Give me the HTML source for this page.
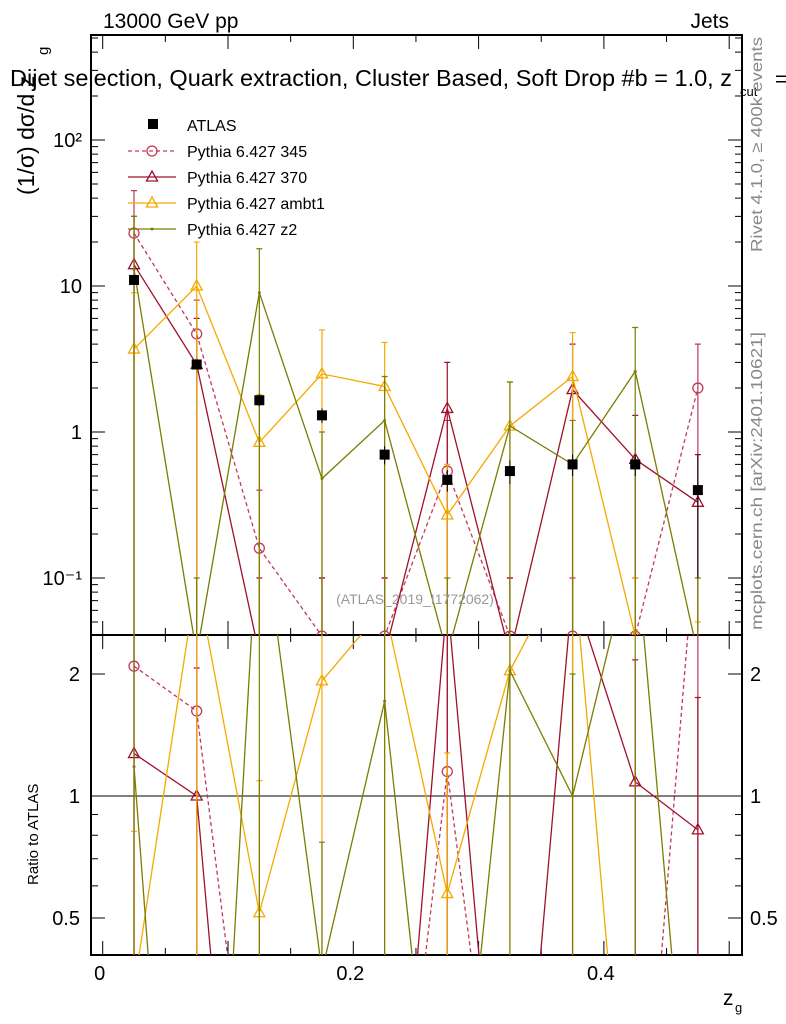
<!DOCTYPE html>
<html><head><meta charset="utf-8"><style>
body{margin:0;background:#fff;overflow:hidden}
svg{display:block}
svg text{font-family:"Liberation Sans",sans-serif}
</style></head><body>
<svg id="c" width="786" height="1024" xmlns="http://www.w3.org/2000/svg"></svg>
<script>
const xCenters=[0.025,0.075,0.125,0.175,0.225,0.275,0.325,0.375,0.425,0.475];
const atlasVals=[11,2.9,1.65,1.3,0.7,0.47,0.54,0.6,0.6,0.4];
const atlasErrUp=[0.5,0.2,0.15,0.15,0.1,0.08,0.1,0.1,0.1,0.3];
const p345Vals=[23,4.7,0.16,0.04,0.04,0.54,0.04,0.04,0.04,2.0];
const p345Up=[45,8,0.4,0.1,0.1,1.2,0.1,0.1,0.1,4.0];
const p370Vals=[14,2.9,0.03,0.03,0.03,1.45,0.03,1.95,0.65,0.33];
const p370Up=[30,6,0.1,0.1,0.1,3.0,0.1,4.0,1.3,0.7];
const ambt1Vals=[3.7,10,0.85,2.5,2.05,0.27,1.1,2.4,0.04,0.02];
const ambt1Up=[9,20,1.8,5,4.1,0.6,2.2,4.8,0.1,0.05];
const z2Vals=[13,0.03,9,0.48,1.2,0.03,1.1,0.6,2.6,0.03];
const z2Up=[30,0.1,18,1.0,2.4,0.1,2.2,1.2,5.2,0.1];
const mainYTicks=["10\u207B\u00B9","1","10","10\u00B2"];
const ratioTicks=[0.5,1,2];
const xTicks=[0,0.2,0.4];
const series=[
 {name:"Pythia 6.427 345",vals:p345Vals,up:p345Up,color:"#c0395a",dash:"4,3",marker:"circle"},
 {name:"Pythia 6.427 370",vals:p370Vals,up:p370Up,color:"#a0102a",dash:"",marker:"tri"},
 {name:"Pythia 6.427 ambt1",vals:ambt1Vals,up:ambt1Up,color:"#f5a800",dash:"",marker:"tri"},
 {name:"Pythia 6.427 z2",vals:z2Vals,up:z2Up,color:"#7a7d00",dash:"",marker:"dot"}];
const NS="http://www.w3.org/2000/svg",svg=document.getElementById('c');
const L=91,R=742,T=35,M=635,B=955;
const X=v=>102.7+v*1253;
const Y=v=>286-(Math.log10(v)-1)*146;
const YR=v=>796-Math.log2(v)*122;
function el(t,a,p){const e=document.createElementNS(NS,t);for(const k in a)e.setAttribute(k,a[k]);(p||svg).appendChild(e);return e;}
function txt(s,a,p){const e=el('text',a,p);e.textContent=s;return e;}
const clipM=el('clipPath',{id:'cm'});el('rect',{x:L,y:T,width:R-L,height:M-T},clipM);
const clipR=el('clipPath',{id:'cr'});el('rect',{x:L,y:M,width:R-L,height:B-M},clipR);
let f1=el('rect',{x:L,y:T,width:R-L,height:M-T,fill:'none',stroke:'#000','stroke-width':2});

let f2=el('rect',{x:L,y:M,width:R-L,height:B-M,fill:'none',stroke:'#000','stroke-width':2});

for(let k=0;k<=10;k++){const v=k*0.05;const x=X(v);if(x>R)continue;const big=k%2==0;const l=big?14:7;
 el('path',{d:`M${x},${T}v${l}M${x},${M}v-${l}M${x},${M}v${l}M${x},${B}v-${l}`,stroke:'#000'});}
xTicks.forEach(v=>{const t=txt(String(v),{x:X(v)-3,y:980,'font-size':20,'text-anchor':'middle'});});
for(let d=-2;d<=2;d++)for(let m=1;m<10;m++){const v=m*Math.pow(10,d);const y=Y(v);if(y<T||y>M)continue;const l=m==1?14:7;
 el('path',{d:`M${L},${y}h${l}M${R},${y}h-${l}`,stroke:'#000'});}
const mv=[0.1,1,10,100];
mainYTicks.forEach((s,i)=>{const t=txt(s,{x:82,y:Y(mv[i])+7,'font-size':20,'text-anchor':'end'});});
[0.5,0.6,0.7,0.8,0.9,1,2].forEach(v=>{const y=YR(v);const l=ratioTicks.includes(v)?14:7;el('path',{d:`M${L},${y}h${l}M${R},${y}h-${l}`,stroke:'#000'});});
ratioTicks.forEach(v=>{const a=txt(String(v),{x:80,y:YR(v)+7,'font-size':20,'text-anchor':'end'});
 const b=txt(String(v),{x:750,y:YR(v)+7,'font-size':20});});
el('line',{x1:L,x2:R,y1:YR(1),y2:YR(1),stroke:'#000'});
function marker(g,s,x,y){if(s.marker=='circle')el('circle',{cx:x,cy:y,r:5,fill:'none',stroke:s.color,'stroke-width':1.3},g);
 else if(s.marker=='tri')el('path',{d:`M${x},${y-6}L${x+5.5},${y+4}L${x-5.5},${y+4}Z`,fill:'none',stroke:s.color,'stroke-width':1.3},g);
 else el('circle',{cx:x,cy:y,r:1.5,fill:s.color},g);}
const gm=el('g',{'clip-path':'url(#cm)'}),gr=el('g',{'clip-path':'url(#cr)'});
series.forEach(s=>{
 const g=el('g',{},gm);
 const g2=el('g',{},gr);
 el('polyline',{points:xCenters.map((x,i)=>X(x)+','+Y(s.vals[i])).join(' '),fill:'none',stroke:s.color,'stroke-width':1.3,'stroke-dasharray':s.dash},g);
 el('polyline',{points:xCenters.map((x,i)=>X(x)+','+YR(s.vals[i]/atlasVals[i])).join(' '),fill:'none',stroke:s.color,'stroke-width':1.3,'stroke-dasharray':s.dash},g2);
 xCenters.forEach((xv,i)=>{const x=X(xv);
  el('path',{d:`M${x},${Y(s.up[i])}V${M+5}M${x-3},${Y(s.up[i])}h6`,stroke:s.color,'stroke-width':1.2},g);
  el('path',{d:`M${x},${YR(s.up[i]/atlasVals[i])}V${B+5}M${x-3},${YR(s.up[i]/atlasVals[i])}h6`,stroke:s.color,'stroke-width':1.2},g2);
  marker(g,s,x,Y(s.vals[i]));marker(g2,s,x,YR(s.vals[i]/atlasVals[i]));});
});
const ga=el('g',{},gm);
xCenters.forEach((xv,i)=>{const x=X(xv),y=Y(atlasVals[i]);
 el('path',{d:`M${x},${Y(atlasVals[i]+atlasErrUp[i])}V${Y(Math.max(atlasVals[i]-atlasErrUp[i],0.001))}`,stroke:'#000'},ga);
 el('rect',{x:x-5,y:y-5,width:10,height:10,fill:'#000'},ga);});
const lg=el('g',{});
el('rect',{x:148,y:119,width:10,height:10,fill:'#000'},lg);txt('ATLAS',{x:187,y:131,'font-size':16},lg);
series.forEach((s,i)=>{const y=151+i*26;el('line',{x1:128,x2:176,y1:y,y2:y,stroke:s.color,'stroke-width':1.3,'stroke-dasharray':s.dash},lg);
 marker(lg,s,152,y);txt(s.name,{x:187,y:y+6,'font-size':16},lg);});
let t;
t=txt('13000 GeV pp',{x:103,y:28,'font-size':21});
t=txt('Jets',{x:729,y:28,'font-size':21,'text-anchor':'end'});
t=txt('Dijet selection, Quark extraction, Cluster Based, Soft Drop #b = 1.0, z',{x:10,y:86,'font-size':23,textLength:722,lengthAdjust:'spacingAndGlyphs'});
txt('cut',{x:740,y:96,'font-size':13});txt('=',{x:775,y:86,'font-size':21});
t=txt('(1/σ) dσ/d z',{x:34,y:195,'font-size':23,transform:'rotate(-90 34 195)'});
txt('g',{x:48,y:55,'font-size':15,transform:'rotate(-90 48 55)'});
t=txt('Ratio to ATLAS',{x:38,y:885,'font-size':15,transform:'rotate(-90 38 885)'});
t=txt('z',{x:723,y:1005,'font-size':21});
txt('g',{x:735,y:1012,'font-size':13});
t=txt('(ATLAS_2019_I1772062)',{x:415,y:604,'font-size':14,fill:'#999','text-anchor':'middle'});
t=txt('Rivet 4.1.0, ≥ 400k events',{x:762,y:252,'font-size':16,fill:'#888',transform:'rotate(-90 762 252)',textLength:215,lengthAdjust:'spacingAndGlyphs'});
t=txt('mcplots.cern.ch [arXiv:2401.10621]',{x:762,y:630,'font-size':16,fill:'#888',transform:'rotate(-90 762 630)',textLength:298,lengthAdjust:'spacingAndGlyphs'});
</script>
</body></html>
